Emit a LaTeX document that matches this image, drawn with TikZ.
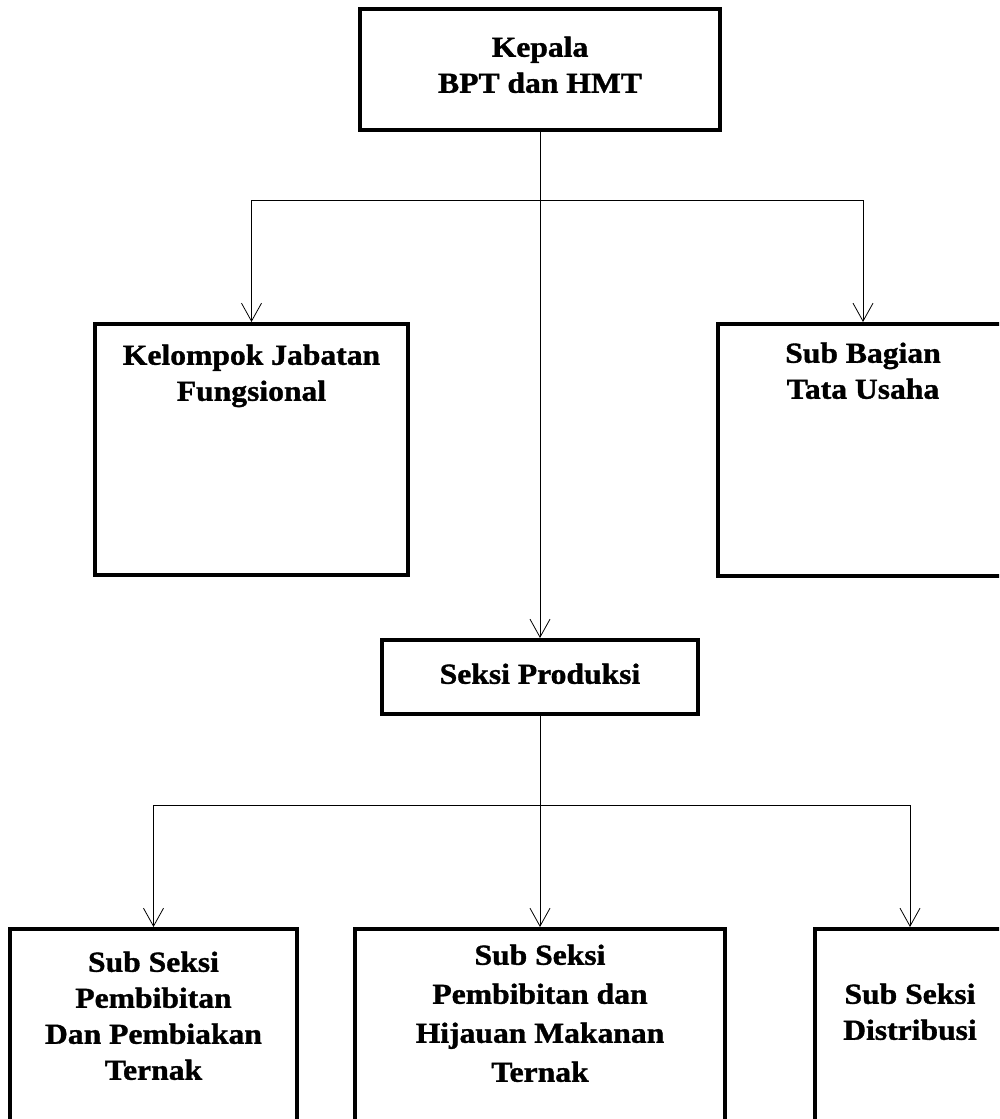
\documentclass[tikz,border=0pt]{standalone}
\usepackage{fontspec}
\setmainfont{Liberation Serif}[FakeStretch=1.09, BoldFeatures={FakeBold=1.2}]
\usetikzlibrary{arrows.meta}
\newcommand{\boxlines}[1]{\begin{tabular}[t]{@{}c@{}}#1\end{tabular}}
\begin{document}
\begin{tikzpicture}[x=1pt,y=-1pt,
  box/.style={draw, line width=3.5pt, anchor=north, inner sep=0pt,
    font=\fontsize{29}{36}\selectfont\bfseries},
  conn/.style={line width=0.8pt},
  arr/.style={conn, -{Straight Barb[length=18pt,width=20pt]}}]
\useasboundingbox (0,0) rectangle (999,1119);
\clip (0,0) rectangle (999,1119);

\node[box, minimum width=360pt, text height=48pt, text depth=73pt] (kepala) at (540,7)
  {\boxlines{Kepala\\BPT dan HMT}};
\node[box, minimum width=313pt, text height=41pt, text depth=210pt] (kelompok) at (251.5,322)
  {\boxlines{Kelompok Jabatan\\Fungsional}};
\node[box, minimum width=290pt, text height=39pt, text depth=213pt] (subbag) at (863,322)
  {\boxlines{Sub Bagian\\Tata Usaha}};
\node[box, minimum width=316pt, text height=44pt, text depth=30pt] (seksi) at (540,638)
  {\boxlines{Seksi Produksi}};
\node[box, minimum width=287pt, text height=43pt, text depth=230pt] (sub1) at (153.5,927)
  {\boxlines{Sub Seksi\\Pembibitan\\Dan Pembiakan\\Ternak}};
\node[box, minimum width=370pt, text height=36pt, text depth=230pt,
  font=\fontsize{29}{39}\selectfont\bfseries] (sub2) at (540,927)
  {\boxlines{Sub Seksi\\Pembibitan dan\\Hijauan Makanan\\Ternak}};
\node[box, minimum width=190pt, text height=75pt, text depth=230pt] (sub3) at (910,927)
  {\boxlines{Sub Seksi\\Distribusi}};

\coordinate (j1) at (540,200);
\coordinate (j2) at (540,805);

\draw[arr] (kepala.south) -- (seksi.north);
\draw[arr] (j1) -| (kelompok.north);
\draw[arr] (j1) -| (subbag.north);
\draw[arr] (seksi.south) -- (sub2.north);
\draw[arr] (j2) -| (sub1.north);
\draw[arr] (j2) -| (sub3.north);
\end{tikzpicture}
\end{document}
